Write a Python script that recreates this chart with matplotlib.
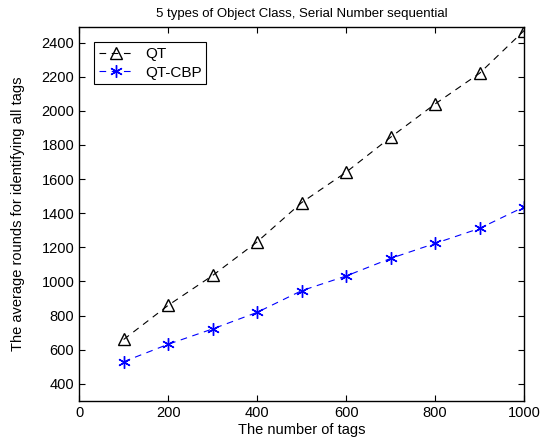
import numpy as np
import matplotlib
matplotlib.use('Agg')
import matplotlib.pyplot as plt

plt.rcParams['font.family'] = ['Liberation Sans', 'DejaVu Sans']

tags = [100, 200, 300, 400, 500, 600, 700, 800, 900, 1000]
qt = [660, 860, 1035, 1232, 1462, 1640, 1845, 2040, 2220, 2470]
qt_cbp = [530, 632, 722, 819, 946, 1032, 1135, 1223, 1311, 1437]

fig = plt.figure(figsize=(5.42, 4.45), dpi=100)
ax = fig.add_axes([0.146, 0.099, 0.821, 0.840])

ax.plot(tags, qt, 'k--', marker='^', markersize=9, markerfacecolor='none',
        markeredgecolor='k', linewidth=0.8, dashes=(6, 5), label='QT')
ax.plot(tags, qt_cbp, '--', color='#0000ff', marker=(6, 2, 0), markersize=9,
        markeredgewidth=1.0, linewidth=0.8, dashes=(6, 5), label='QT-CBP')

ax.set_xlim(0, 1000)
ax.set_ylim(300, 2490)
ax.set_xticks(np.arange(0, 1001, 200))
ax.set_yticks(np.arange(400, 2401, 200))
ax.tick_params(direction='in', top=True, right=True, labelsize=10.5, length=4)
for s in ax.spines.values():
    s.set_linewidth(1.0)

ax.set_xlabel('The number of tags', fontsize=10.5, labelpad=2)
ax.set_ylabel('The average rounds for identifying all tags', fontsize=10.5, labelpad=12)
ax.set_title('5 types of Object Class, Serial Number sequential', fontsize=9.5, pad=7)

leg = ax.legend(loc='upper left', fontsize=11, fancybox=False, edgecolor='k',
                handlelength=2.2, borderaxespad=1.0, borderpad=0.3,
                labelspacing=0.3, handletextpad=0.8, framealpha=1)
leg.get_frame().set_linewidth(0.8)

fig.savefig('out.png', dpi=100)
